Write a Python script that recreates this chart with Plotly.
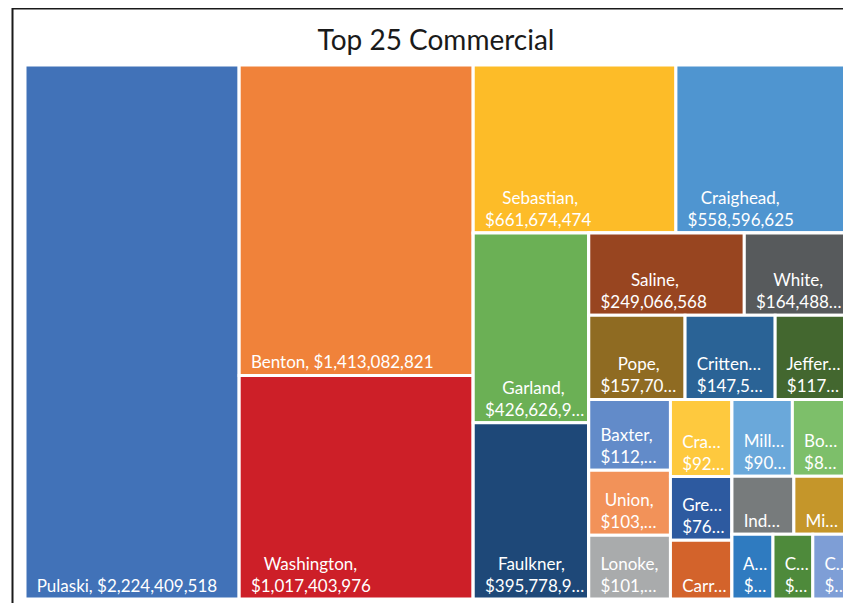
import plotly.graph_objects as go

# ---- data ----
counties = ["Pulaski", "Benton", "Washington", "Sebastian", "Craighead",
            "Garland", "Faulkner", "Saline", "White", "Pope", "Crittenden",
            "Jefferson", "Baxter", "Union", "Lonoke", "Crawford", "Miller",
            "Boone", "Greene", "Carroll", "Independence", "Mississippi",
            "Ashley", "Columbia", "Cleburne"]

values = [2224409518, 1413082821, 1017403976, 661674474, 558596625,
          426626940, 395778930, 249066568, 164488210, 157704350, 147536120,
          117621480, 112418260, 103267540, 101354870, 92318450, 90147620,
          81526340, 76213890, 70184560, 69840210, 59936120,
          51732480, 50218730, 43105690]

# label text as shown (Excel truncates labels that do not fit)
shown = ["Pulaski, $2,224,409,518", "Benton, $1,413,082,821",
         "Washington,<br>$1,017,403,976", "Sebastian,<br>$661,674,474",
         "Craighead,<br>$558,596,625", "Garland,<br>$426,626,9…",
         "Faulkner,<br>$395,778,9…", "Saline,<br>$249,066,568",
         "White,<br>$164,488…", "Pope,<br>$157,70…", "Critten…<br>$147,5…",
         "Jeffer…<br>$117…", "Baxter,<br>$112,…", "Union,<br>$103,…",
         "Lonoke,<br>$101,…", "Cra…<br>$92…", "Mill…<br>$90…",
         "Bo…<br>$8…", "Gre…<br>$76…", "Carr…", "Ind…", "Mi…",
         "A…<br>$…", "C…<br>$…", "C…<br>$…"]

colors = ["#4172B8", "#F0823A", "#CD1F28", "#FDBC28", "#4F95D0",
          "#6BB055", "#1E4878", "#984520", "#575A5C", "#8F6B22", "#2A6396",
          "#43672F", "#628BC9", "#F29259", "#A9ABAC", "#FEC93E", "#6AA8DA",
          "#7DBF6A", "#2D5AA0", "#D3632B", "#777B7C", "#C5962A",
          "#2F7BC0", "#4E8A3B", "#7E9ED6"]

# grouping of the tiles (how Excel arranged them)
arrangement = ["Pulaski", ["Benton", "Washington"],
               [["Sebastian", "Craighead"],
                [["Garland", "Faulkner"],
                 [["Saline", "White"], ["Pope", "Crittenden", "Jefferson"],
                  [["Baxter", "Union", "Lonoke"], ["Crawford", "Greene", "Carroll"],
                   [["Miller", "Boone"], ["Independence", "Mississippi"],
                    ["Ashley", "Columbia", "Cleburne"]]]]]]]

# ---- label layout helpers: left padding + centred lines (as Excel does) ----
NB = "\u00a0"
SPACE_EM = 0.26
WIDTHS = {"i": .23, "l": .23, "j": .23, "f": .33, "t": .35, "r": .36, "s": .42,
          "a": .49, "c": .46, "e": .52, "g": .5, "k": .5, "x": .49, "y": .5,
          "z": .45, "m": .84, "w": .77, ",": .2, ".": .2, " ": .193, "$": .58,
          "…": .67, "W": .97, "M": .84, "I": .28, "J": .38, "L": .48, "S": .52}


def em_width(s):
    tot = 0.0
    for ch in s:
        if ch in WIDTHS:
            tot += WIDTHS[ch]
        elif ch.isdigit():
            tot += .58
        elif ch.isupper():
            tot += .64
        else:
            tot += .55
    return tot


def layout_label(s, pad=2):
    if not s:
        return s
    lines = s.split("<br>")
    w = [em_width(x) for x in lines]
    wmax = max(w)
    out = []
    for x, wi in zip(lines, w):
        n = pad + int(round((wmax - wi) / 2 / SPACE_EM))
        out.append(NB * n + x)
    return "<br>".join(out)


# ---- build treemap arrays ----
idx = {c: i for i, c in enumerate(counties)}
ids, parents, vals, texts, cols, labels = [], [], [], [], [], []
counter = [0]


def add(node, parent):
    if isinstance(node, str):
        i = idx[node]
        ids.append(node); labels.append(node); parents.append(parent)
        vals.append(values[i]); texts.append(layout_label(shown[i]))
        cols.append(colors[i])
    else:
        gid = "grp%d" % counter[0]
        counter[0] += 1
        ids.append(gid); labels.append(""); parents.append(parent)
        vals.append(0); texts.append(""); cols.append("white")
        for ch in node:
            add(ch, gid)


add(arrangement, "")

FS = 17
fig = go.Figure(go.Treemap(
    ids=ids, labels=labels, parents=parents, values=vals,
    branchvalues="remainder", sort=False,
    text=texts, texttemplate="%{text}", textposition="bottom left",
    textfont=dict(family="Lato", size=FS, color="white"),
    marker=dict(colors=cols, line=dict(color="white", width=3),
                pad=dict(t=0, l=0, r=0, b=0), depthfade=False),
    tiling=dict(packing="slice-dice", pad=0),
    pathbar=dict(visible=False),
    hovertemplate="%{label}: $%{value:,}<extra></extra>",
))

# the page has an 8px body margin, so the figure is placed at (8, 8)
OFF = 8
W, H = 851 - OFF, 603 - OFF
ml, mr, mt, mb = 17, 4, 57, 4
pw, ph = W - ml - mr, H - mt - mb


def px_x(x):
    return (x - OFF - ml) / pw


def px_y(y):
    return (H - mb - (y - OFF)) / ph


fig.update_layout(
    width=W, height=H,
    margin=dict(l=ml, r=mr, t=mt, b=mb),
    paper_bgcolor="white",
    uniformtext=dict(minsize=FS, mode="show"),
    title=dict(text="Top 25 Commercial", x=0.5, xref="paper",
               y=1 - (40 - OFF) / H, yref="container", yanchor="middle",
               font=dict(family="Lato", size=28, color="#1a1a1a")),
    shapes=[dict(type="rect", xref="paper", yref="paper",
                 x0=px_x(12.5), x1=px_x(870), y0=px_y(620), y1=px_y(OFF + 0.5),
                 line=dict(color="#1a1a1a", width=2), fillcolor="rgba(0,0,0,0)",
                 layer="above")],
)

fig.write_html("out.html")
